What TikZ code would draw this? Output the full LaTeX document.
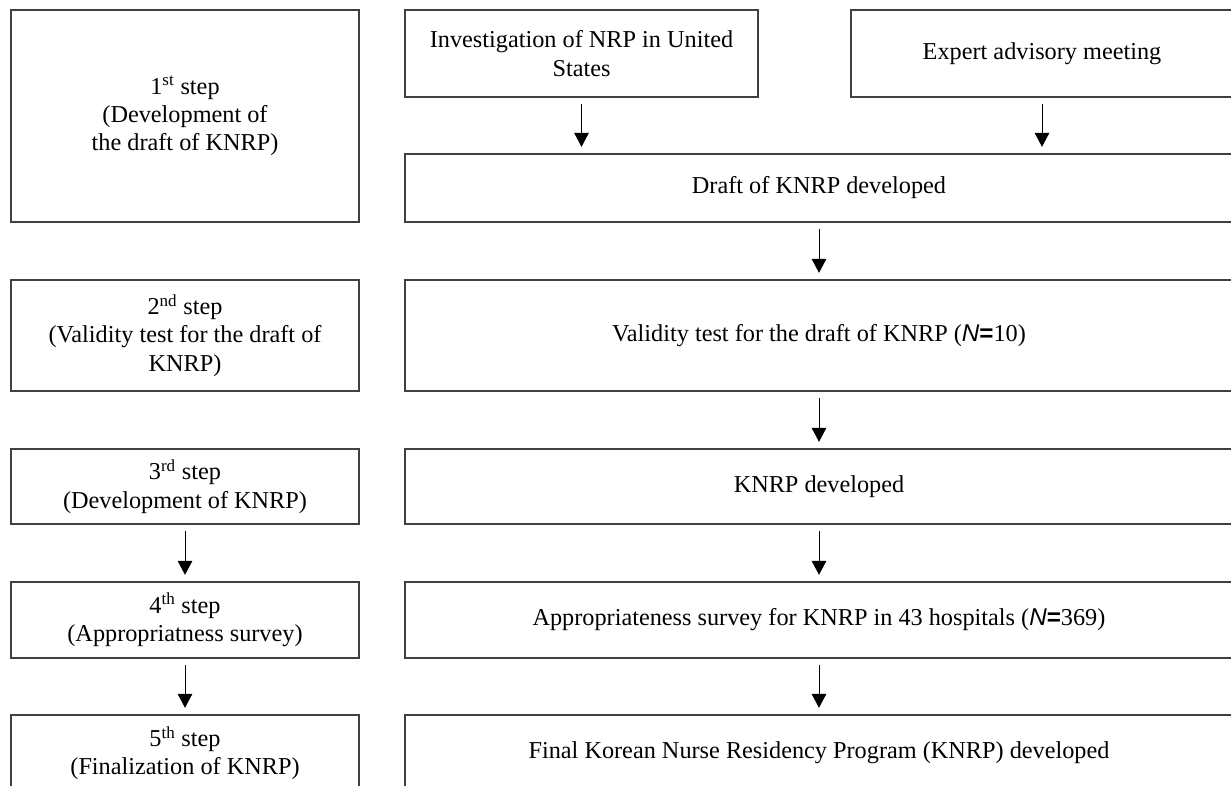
\documentclass[tikz,border=0pt]{standalone}
\usepackage{fontspec}
\setmainfont{Liberation Serif}
\newfontfamily\sansf{Liberation Sans}
\usetikzlibrary{arrows.meta}
\newcommand{\Nvar}{{\sansf\itshape N}{\sansf\bfseries =}}
\begin{document}
\begin{tikzpicture}[x=0.75pt,y=-0.75pt,
  box/.style={draw=black!75, line width=0.8pt, align=center, inner sep=0pt,
    font=\fontsize{18.2}{21.2}\selectfont},
  arr/.style={-{Triangle[width=11pt,length=10.5pt]}, line width=0.6pt,
    shorten <=5pt, shorten >=5pt}]
\useasboundingbox (0,0) rectangle (1231,785);
\clip (0,0) rectangle (1231,785);
% left column
\node[box, minimum width=261pt, minimum height=159pt] (s1) at (185,116)
  {1\textsuperscript{st} step\\(Development of\\the draft of KNRP)};
\node[box, minimum width=261pt, minimum height=83.25pt] (s2) at (185,335.5)
  {2\textsuperscript{nd} step\\(Validity test for the draft of\\KNRP)};
\node[box, minimum width=261pt, minimum height=56.25pt] (s3) at (185,486.5)
  {3\textsuperscript{rd} step\\(Development of KNRP)};
\node[box, minimum width=261pt, minimum height=57pt] (s4) at (185,620)
  {4\textsuperscript{th} step\\(Appropriatness survey)};
\node[box, minimum width=261pt, minimum height=57pt] (s5) at (185,753)
  {5\textsuperscript{th} step\\(Finalization of KNRP)};
% right column
\node[box, minimum width=264.75pt, minimum height=65.25pt] (inv) at (581.5,53.5)
  {Investigation of NRP in United\\States};
\node[box, minimum width=286.5pt, minimum height=65.25pt] (exp) at (1042,53.5)
  {Expert advisory meeting};
\node[box, minimum width=621pt, minimum height=51pt] (draft) at (819,188)
  {Draft of KNRP developed};
\node[box, minimum width=621pt, minimum height=83.25pt] (val) at (819,335.5)
  {Validity test for the draft of KNRP (\Nvar10)};
\node[box, minimum width=621pt, minimum height=56.25pt] (dev) at (819,486.5)
  {KNRP developed};
\node[box, minimum width=621pt, minimum height=57pt] (app) at (819,620)
  {Appropriateness survey for KNRP in 43 hospitals (\Nvar369)};
\node[box, minimum width=621pt, minimum height=57pt] (fin) at (819,753)
  {Final Korean Nurse Residency Program (KNRP) developed};
% arrows
\draw[arr] (inv.south) -- (inv.south |- draft.north);
\draw[arr] (exp.south) -- (exp.south |- draft.north);
\draw[arr] (draft.south) -- (val.north);
\draw[arr] (val.south) -- (dev.north);
\draw[arr] (dev.south) -- (app.north);
\draw[arr] (app.south) -- (fin.north);
\draw[arr] (s3.south) -- (s4.north);
\draw[arr] (s4.south) -- (s5.north);
\end{tikzpicture}
\end{document}
